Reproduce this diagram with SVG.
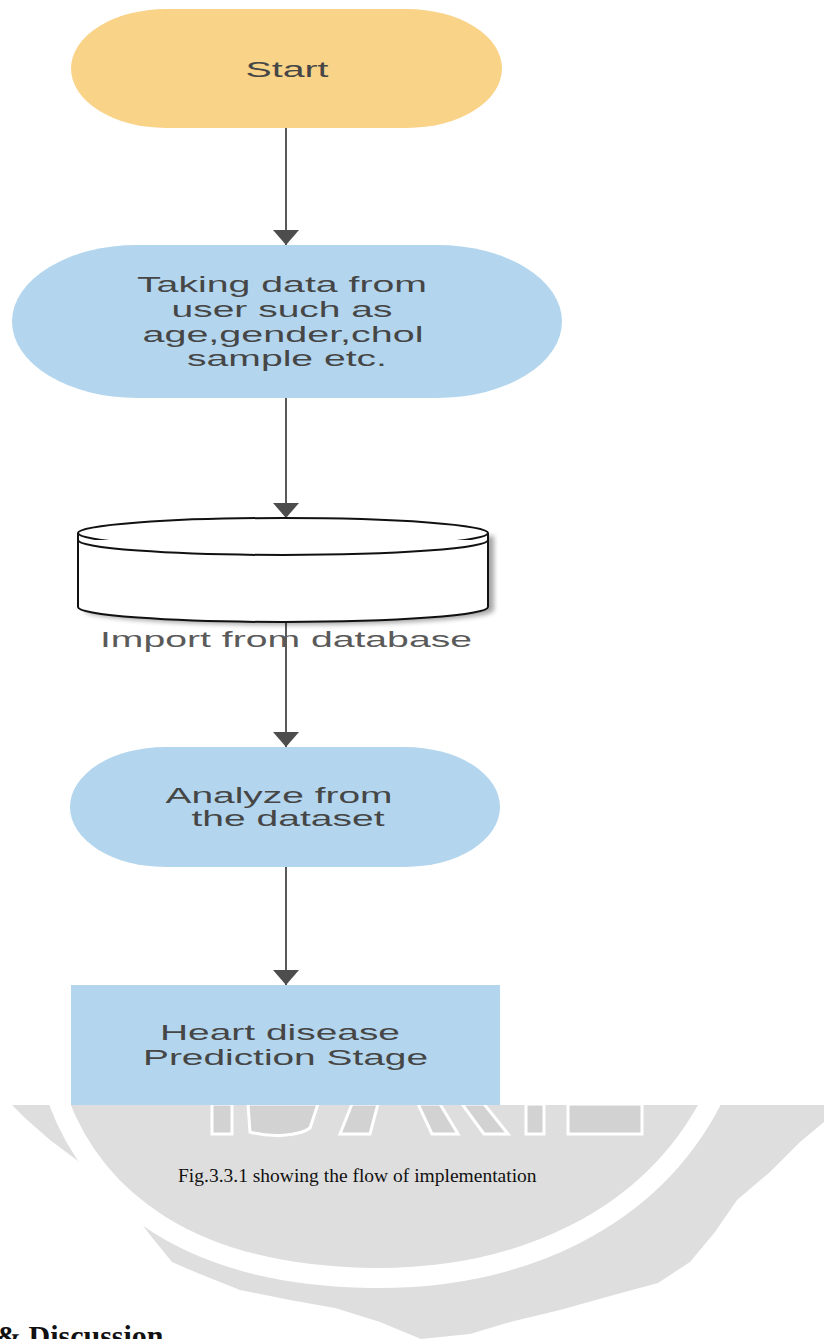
<svg xmlns="http://www.w3.org/2000/svg" width="824" height="1339" viewBox="0 0 824 1339">
<style>
.lbl{font-family:"Liberation Sans",Arial,sans-serif;font-size:22px;fill:#464646;text-anchor:middle}
.edge{stroke:#5a5a5a;stroke-width:2;fill:none}
.cyl{fill:#fff;stroke:#111;stroke-width:2}
.cap{font-family:"Liberation Serif","Times New Roman",serif;font-size:19.5px;fill:#111}
.head{font-family:"Liberation Serif","Times New Roman",serif;font-size:30px;font-weight:bold;fill:#111}
</style>
<defs>
<marker id="arr" markerUnits="userSpaceOnUse" markerWidth="16" markerHeight="28" refX="15" refY="14" orient="auto" viewBox="0 0 16 28">
<path d="M0,1 L15,14 L0,27 Z" fill="#4d4d4d"/>
</marker>
<filter id="sh" x="-10%" y="-30%" width="130%" height="160%">
<feGaussianBlur stdDeviation="2.5"/>
</filter>
</defs>
<rect width="824" height="1339" fill="#fff"/>

<g id="watermark">
<path fill="#dedede" d="M12,1105 L824,1105 L824,1122 L800,1142 L770,1172 L737,1200 L715,1232 L690,1262 L658,1283 L610,1296 L560,1310 L510,1322 L470,1334 L421,1339 L380,1322 L335,1308 L290,1300 L240,1290 L195,1272 L172,1262 L150,1235 L124,1200 L90,1170 L50,1140 L25,1118 Z"/>
<path fill="none" stroke="#fff" stroke-width="20" d="M58,1100 C95,1200 190,1275 370,1278 C520,1280 650,1220 712,1100"/>
<g fill="#d2d2d2" stroke="#fff" stroke-width="3">
<rect x="212" y="1104" width="20" height="30"/>
<path d="M248,1104 L318,1104 L310,1128 C300,1136 270,1138 250,1132 Z"/>
<path d="M352,1104 L378,1104 L370,1134 L340,1134 Z"/>
<path d="M418,1104 L440,1104 L458,1134 L432,1134 Z"/>
<path d="M462,1104 L484,1104 L508,1134 L484,1134 Z"/>
<rect x="526" y="1104" width="18" height="30"/>
<rect x="568" y="1104" width="74" height="30"/>
</g>
</g>

<g id="connectors">
<line class="edge" x1="286" y1="128" x2="286" y2="245" marker-end="url(#arr)"/>
<line class="edge" x1="286" y1="398" x2="286" y2="518" marker-end="url(#arr)"/>
<line class="edge" x1="286" y1="622" x2="286" y2="747" marker-end="url(#arr)"/>
<line class="edge" x1="286" y1="867" x2="286" y2="985" marker-end="url(#arr)"/>
</g>

<g id="start">
<rect x="71" y="9" width="431" height="119" rx="95" ry="59.5" fill="#f9d388"/>
<text class="lbl" x="287" y="77" textLength="83" lengthAdjust="spacingAndGlyphs">Start</text>
</g>

<g id="taking">
<rect x="12" y="245" width="550" height="153" rx="125" ry="76.5" fill="#b3d6ee"/>
<text class="lbl" x="282" y="292" textLength="290" lengthAdjust="spacingAndGlyphs">Taking data from</text>
<text class="lbl" x="282" y="317" textLength="221" lengthAdjust="spacingAndGlyphs">user such as</text>
<text class="lbl" x="283" y="342" textLength="281" lengthAdjust="spacingAndGlyphs">age,gender,chol</text>
<text class="lbl" x="287" y="366" textLength="200" lengthAdjust="spacingAndGlyphs">sample etc.</text>
</g>

<g id="database">
<path d="M84,536 L84,610 A205,15 0 0 0 494,610 L494,536" fill="#000" opacity="0.35" filter="url(#sh)"/>
<path class="cyl" d="M78,533 L78,607 A205,15 0 0 0 488,607 L488,533"/>
<ellipse class="cyl" cx="283" cy="533" rx="205" ry="15"/>
<path class="cyl" fill="none" d="M78,540 A205,15 0 0 0 488,540"/>
<text class="lbl" x="286" y="647" textLength="372" lengthAdjust="spacingAndGlyphs" style="fill:#5a5a5a">Import from database</text>
</g>

<g id="analyze">
<rect x="70" y="747" width="430" height="120" rx="95" ry="60" fill="#b3d6ee"/>
<text class="lbl" x="279" y="803" textLength="227" lengthAdjust="spacingAndGlyphs">Analyze from</text>
<text class="lbl" x="288" y="826" textLength="193" lengthAdjust="spacingAndGlyphs">the dataset</text>
</g>

<g id="prediction">
<rect x="71" y="985" width="429" height="120" fill="#b3d6ee"/>
<text class="lbl" x="280" y="1040" textLength="240" lengthAdjust="spacingAndGlyphs">Heart disease</text>
<text class="lbl" x="285.5" y="1065" textLength="285" lengthAdjust="spacingAndGlyphs">Prediction Stage</text>
</g>

<g id="caption">
<text class="cap" x="178" y="1182">Fig.3.3.1 showing the flow of implementation</text>
<text class="head" x="-4" y="1346">&amp; Discussion</text>
</g>
</svg>
